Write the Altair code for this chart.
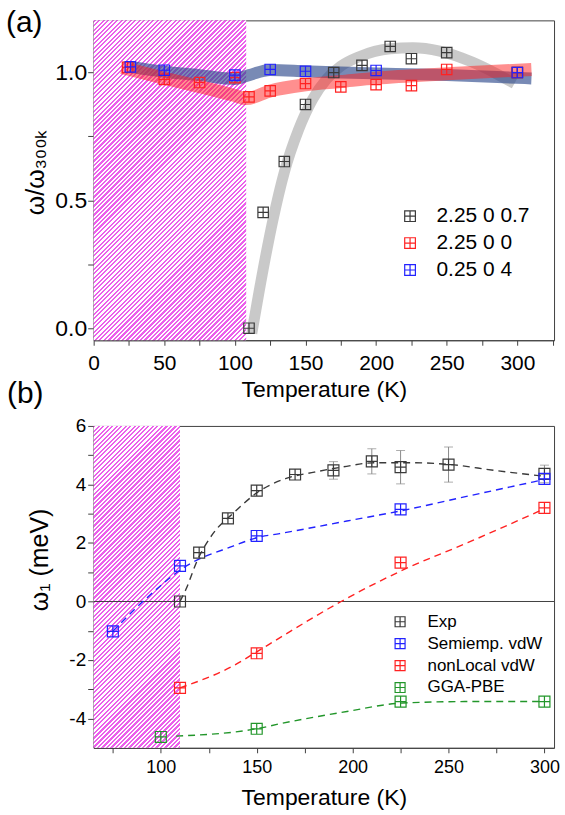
import altair as alt
import pandas as pd

FONT = "Liberation Sans"
SQ = "M-1,-1H1V1H-1Z M0,-1V1 M-1,0H1"

# ---------------- panel (a) data ----------------
a_series = ["2.25 0 0.7", "2.25 0 0", "0.25 0 4"]
a_colors = ["#3a3a3a", "#ff2222", "#2222ff"]
a_black_T = [110, 120, 135, 150, 170, 190, 210, 225, 250, 300]
a_black_v = [0.0, 0.453, 0.652, 0.875, 1.0, 1.028, 1.102, 1.054, 1.078, 1.0]
a_red_T = [24, 50, 75, 100, 110, 125, 150, 175, 200, 225, 250, 300]
a_red_v = [1.02, 0.973, 0.961, 0.98, 0.905, 0.928, 0.957, 0.944, 0.953, 0.949, 1.012, 1.0]
a_blue_T = [26, 50, 100, 125, 150, 200, 300]
a_blue_v = [1.022, 1.009, 0.99, 1.012, 1.005, 1.008, 1.0]

band_gray_T = [112, 120, 127, 135, 145, 155, 165, 175, 188, 210, 226, 245, 268, 285, 298]
band_gray_v = [-0.02, 0.23, 0.425, 0.61, 0.775, 0.895, 0.975, 1.025, 1.062, 1.093, 1.097, 1.084, 1.041, 0.996, 0.957]
band_red_T = [20, 50, 75, 100, 108, 125, 150, 175, 200, 250, 310]
band_red_v = [1.02, 0.978, 0.945, 0.91, 0.898, 0.928, 0.952, 0.965, 0.978, 0.995, 1.012]
band_blue_T = [26, 50, 75, 100, 110, 125, 150, 175, 250, 310]
band_blue_v = [1.022, 1.003, 0.99, 0.975, 0.99, 1.01, 1.005, 1.0, 0.99, 0.977]
hatch_a = [0, 108]

# ---------------- panel (b) data ----------------
b_series = ["Exp", "Semiemp. vdW", "nonLocal vdW", "GGA-PBE"]
b_colors = ["#3a3a3a", "#2222ff", "#ff2222", "#22962a"]
exp_T = [110, 120, 135, 150, 170, 190, 210, 225, 250, 300]
exp_w = [0.0, 1.67, 2.84, 3.79, 4.34, 4.48, 4.79, 4.59, 4.68, 4.36]
err_T = [190, 210, 225, 250, 300]
err_c = [4.48, 4.79, 4.59, 4.68, 4.36]
err_d = [0.3, 0.43, 0.57, 0.6, 0.3]
semi_T = [75, 110, 150, 225, 300]
semi_w = [-1.02, 1.22, 2.24, 3.15, 4.19]
nl_T = [110, 150, 225, 300]
nl_w = [-2.95, -1.77, 1.33, 3.2]
gga_T = [100, 150, 225, 300]
gga_w = [-4.63, -4.35, -3.42, -3.42]

fit_exp_T = [110, 113, 119, 127, 138, 150, 165, 180, 195, 211, 232, 251, 274, 300]
fit_exp_w = [0.0, 0.4, 1.4, 2.3, 3.03, 3.71, 4.2, 4.42, 4.6, 4.74, 4.74, 4.68, 4.48, 4.28]
fit_semi_T = [75, 93, 112, 138, 150, 162, 197, 226, 260, 300]
fit_semi_w = [-1.02, 0.14, 1.16, 1.9, 2.18, 2.32, 2.75, 3.11, 3.6, 4.17]
fit_nl_T = [110, 138, 150, 163, 194, 226, 260, 300]
fit_nl_w = [-2.95, -2.19, -1.72, -1.2, 0.0, 1.07, 2.01, 3.17]
fit_gga_T = [108, 150, 162, 197, 226, 260, 300]
fit_gga_w = [-4.6, -4.35, -4.18, -3.76, -3.47, -3.42, -3.42]
hatch_b = [65, 110]

# ---------------- geometry / style ----------------
W = 462
HA = 321
HB = 323
XA = [0, 326]
YA = [-0.047, 1.204]
XB = [65, 305]
YB = [-5, 6]


def hatch_gradient(wpx, hpx, period=3.2, color="#ec60ec", gap="#ffffff"):
    L = (wpx + hpx) / 2 ** 0.5
    s = (wpx + hpx) / (wpx ** 2 + hpx ** 2)
    stops = []
    i = 0
    while i * period / L < 1:
        a = round(i * period / L, 5)
        b = round(min((i + 0.5) * period / L, 1), 5)
        c = round(min((i + 1) * period / L, 1), 5)
        stops += [alt.GradientStop(offset=a, color=color), alt.GradientStop(offset=b, color=color),
                  alt.GradientStop(offset=b, color=gap), alt.GradientStop(offset=c, color=gap)]
        i += 1
    return alt.LinearGradient(gradient="linear", stops=stops, x1=0, y1=0,
                              x2=round(wpx * s, 5), y2=round(hpx * s, 5))


def df(T, v, s=None):
    d = pd.DataFrame({"T": T, "v": v})
    if s is not None:
        d["s"] = s
    return d


# ---------------- panel (a) ----------------
xa_axis = alt.Axis(values=list(range(0, 326, 25)), labelExpr="datum.value % 50 === 0 ? datum.label : ''",
                   title="Temperature (K)", labelFontSize=21, titleFontSize=23, tickSize=5, labelPadding=7,
                   labelFlush=False, labelOverlap=False, titleY=56, titleBaseline="alphabetic")
ya_axis = alt.Axis(values=[0, 0.25, 0.5, 0.75, 1.0],
                   labelExpr="round(datum.value*4) % 2 === 0 ? format(datum.value, '.1f') : ''",
                   title="ω/ω₃₀₀ₖ", labelFontSize=23, titleFontSize=25, tickSize=6, labelPadding=1,
                   labelOverlap=False, titleX=-50, titleY=152, titleBaseline="alphabetic")
Xa = alt.X("T:Q", scale=alt.Scale(domain=XA, nice=False, zero=False), axis=xa_axis)
Ya = alt.Y("v:Q", scale=alt.Scale(domain=YA, nice=False, zero=False), axis=ya_axis)

hatch_a_df = pd.DataFrame({"T": [hatch_a[0]], "T2": [hatch_a[1]]})
hatch_a_rect = alt.Chart(hatch_a_df).mark_rect(
    color=hatch_gradient((hatch_a[1] - hatch_a[0]) * W / (XA[1] - XA[0]), HA)).encode(x=Xa, x2="T2:Q")

bands = []
for T, v, c, op, w in [(band_gray_T, band_gray_v, "#bcbcbc", 0.8, 11),
                       (band_blue_T, band_blue_v, "#304c8d", 0.65, 12),
                       (band_red_T, band_red_v, "#ff2020", 0.5, 13)]:
    bands.append(alt.Chart(df(T, v)).mark_line(color=c, opacity=op, strokeWidth=w, interpolate="monotone")
                 .encode(x=Xa, y=Ya))

a_pts = pd.concat([df(a_black_T, a_black_v, a_series[0]), df(a_red_T, a_red_v, a_series[1]),
                   df(a_blue_T, a_blue_v, a_series[2])], ignore_index=True)
a_pts["o"] = range(len(a_pts))
pts_a = alt.Chart(a_pts).mark_point(shape=SQ, filled=False, size=110, strokeWidth=1.2, opacity=1).encode(
    x=Xa, y=Ya,
    color=alt.Color("s:N", scale=alt.Scale(domain=a_series, range=a_colors),
                    legend=alt.Legend(title=None, orient="none", legendX=307, legendY=186, padding=0,
                                      symbolType=SQ, symbolSize=115, symbolStrokeWidth=1.2,
                                      labelFontSize=21, labelFont=FONT, labelOffset=16, rowPadding=5,
                                      labelColor="black")),
    order="o:Q")

panel_a = alt.layer(hatch_a_rect, *bands, pts_a).properties(
    width=W, height=HA,
    title=alt.TitleParams("(a)", anchor="start", frame="group", fontSize=30, font=FONT,
                          fontWeight="normal", dx=-88, dy=18, offset=0, color="black"))

# ---------------- panel (b) ----------------
xb_axis = alt.Axis(values=list(range(75, 301, 25)), labelExpr="datum.value % 50 === 0 ? datum.label : ''",
                   title="Temperature (K)", labelFontSize=18, titleFontSize=23, tickSize=5, labelPadding=6,
                   labelFlush=False, labelOverlap=False, titleY=57, titleBaseline="alphabetic")
yb_axis = alt.Axis(values=list(range(-4, 7)),
                   labelExpr="datum.value % 2 === 0 ? '' + datum.value : ''",
                   title="ω₁ (meV)", labelFontSize=19, titleFontSize=25, tickSize=6, labelPadding=2,
                   labelOverlap=False, titleX=-46, titleY=134, titleBaseline="alphabetic")
xb_scale = alt.Scale(domain=XB, nice=False, zero=False)
yb_scale = alt.Scale(domain=YB, nice=False, zero=False)
Xb = alt.X("T:Q", scale=xb_scale, axis=xb_axis)
Yb = alt.Y("v:Q", scale=yb_scale, axis=yb_axis)

hatch_b_df = pd.DataFrame({"T": [hatch_b[0]], "T2": [hatch_b[1]]})
hatch_b_rect = alt.Chart(hatch_b_df).mark_rect(
    color=hatch_gradient((hatch_b[1] - hatch_b[0]) * W / (XB[1] - XB[0]), HB)).encode(x=Xb, x2="T2:Q")

zero_rule = alt.Chart(pd.DataFrame({"v": [0]})).mark_rule(color="#404040", strokeWidth=1).encode(y=Yb)

fits = []
for T, v, c in [(fit_exp_T, fit_exp_w, b_colors[0]), (fit_semi_T, fit_semi_w, b_colors[1]),
                (fit_nl_T, fit_nl_w, b_colors[2]), (fit_gga_T, fit_gga_w, b_colors[3])]:
    fits.append(alt.Chart(df(T, v)).mark_line(color=c, strokeWidth=1.4, strokeDash=[7, 5],
                                              interpolate="monotone").encode(x=Xb, y=Yb))

err_df = pd.DataFrame({"T": err_T, "lo": [c - d for c, d in zip(err_c, err_d)],
                       "hi": [c + d for c, d in zip(err_c, err_d)]})
errs = alt.Chart(err_df).mark_errorbar(ticks=True, size=9, thickness=1, color="#8a8a8a").encode(
    x=Xb, y=alt.Y("lo:Q", scale=yb_scale, axis=yb_axis), y2="hi:Q")

b_pts = pd.concat([df(exp_T, exp_w, b_series[0]), df(semi_T, semi_w, b_series[1]),
                   df(nl_T, nl_w, b_series[2]), df(gga_T, gga_w, b_series[3])], ignore_index=True)
b_pts["o"] = range(len(b_pts))
pts_b = alt.Chart(b_pts).mark_point(shape=SQ, filled=False, size=121, strokeWidth=1.2, opacity=1).encode(
    x=Xb, y=Yb,
    color=alt.Color("s:N", scale=alt.Scale(domain=b_series, range=b_colors),
                    legend=alt.Legend(title=None, orient="none", legendX=299, legendY=188, padding=0,
                                      symbolType=SQ, symbolSize=100, symbolStrokeWidth=1.2,
                                      labelFontSize=17, labelFont=FONT, labelOffset=19, rowPadding=4,
                                      labelColor="black")),
    order="o:Q")

panel_b = alt.layer(hatch_b_rect, zero_rule, *fits, errs, pts_b).properties(
    width=W, height=HB,
    title=alt.TitleParams("(b)", anchor="start", frame="group", fontSize=30, font=FONT,
                          fontWeight="normal", dx=-87, dy=-8, offset=0, color="black"))

chart = alt.vconcat(panel_a, panel_b, spacing=86, bounds="flush").resolve_scale(
    color="independent").resolve_legend(color="independent").configure(
    font=FONT, padding={"left": 5, "top": 6, "right": 5, "bottom": 5}, background="white").configure_view(
    stroke="#404040", strokeWidth=1).configure_axis(
    domainColor="#404040", tickColor="#404040", labelColor="black", titleColor="black", grid=False,
    labelFont=FONT, titleFont=FONT, titleFontWeight="normal")

chart.save("out.html", embed_options={"renderer": "svg", "actions": False})
